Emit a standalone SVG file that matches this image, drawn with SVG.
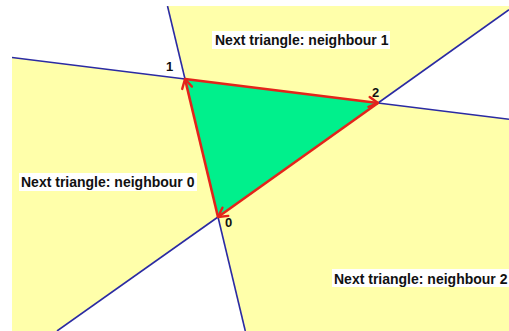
<svg xmlns="http://www.w3.org/2000/svg" width="509" height="331" viewBox="0 0 509 331">
<style>
.region{fill:#ffffaa;stroke:none}
.blue{stroke:#2b2ba3;stroke-width:1.6;fill:none}
.edge{stroke:#e3241b;stroke-width:2.6;fill:none;marker-end:url(#arr)}
.lbl{font-family:"Liberation Sans",Arial,sans-serif;font-weight:bold;font-size:14px;fill:#111}
.vlbl{font-family:"Liberation Sans",Arial,sans-serif;font-weight:bold;font-size:13px;fill:#111}
.bg{fill:#ffffff}
</style>
<defs>
<clipPath id="area"><rect x="12" y="6" width="497" height="325"/></clipPath>
<marker id="arr" markerUnits="userSpaceOnUse" markerWidth="20" markerHeight="20" viewBox="-12 -10 20 20" refX="0" refY="0" orient="auto">
<path d="M-9,-5 L0,0 L-9,5" fill="none" stroke="#e3241b" stroke-width="2.4" stroke-linecap="round" stroke-linejoin="round"/>
</marker>
</defs>
<rect width="509" height="331" fill="#ffffff"/>
<g id="regions" clip-path="url(#area)">
<polygon id="region-n1" class="region" points="167.5,6 185,79 378,103 509,9.7 509,6"/>
<polygon id="region-n0" class="region" points="12,57.5 185,79 218,217 57,331 12,331"/>
<polygon id="region-n2" class="region" points="378,103 509,119.3 509,331 245,331 218,217"/>
</g>
<g id="triangle">
<polygon points="218,217 185,79 378,103" fill="#00f08c"/>
</g>
<g id="connectors" clip-path="url(#area)">
<line class="blue" x1="167.5" y1="6" x2="185" y2="79"/>
<line class="blue" x1="218" y1="217" x2="245.3" y2="331"/>
<line class="blue" x1="12" y1="57.5" x2="185" y2="79"/>
<line class="blue" x1="378" y1="103" x2="509" y2="119.3"/>
<line class="blue" x1="378" y1="103" x2="509" y2="9.7"/>
<line class="blue" x1="218" y1="217" x2="57" y2="331"/>
<line class="edge" x1="218" y1="217" x2="185" y2="79"/>
<line class="edge" x1="185" y1="79" x2="378" y2="103"/>
<line class="edge" x1="378" y1="103" x2="218" y2="217"/>
</g>
<g id="v0"><text class="vlbl" x="225" y="227">0</text></g>
<g id="v1"><text class="vlbl" x="166" y="71">1</text></g>
<g id="v2"><text class="vlbl" x="372" y="97">2</text></g>
<g id="label-n1"><rect class="bg" x="212" y="31" width="178" height="18"/><text class="lbl" x="215" y="45">Next triangle: neighbour 1</text></g>
<g id="label-n0"><rect class="bg" x="19" y="173" width="178" height="18"/><text class="lbl" x="21" y="187">Next triangle: neighbour 0</text></g>
<g id="label-n2"><rect class="bg" x="332" y="269" width="177" height="18"/><text class="lbl" x="334" y="283.5">Next triangle: neighbour 2</text></g>
</svg>
